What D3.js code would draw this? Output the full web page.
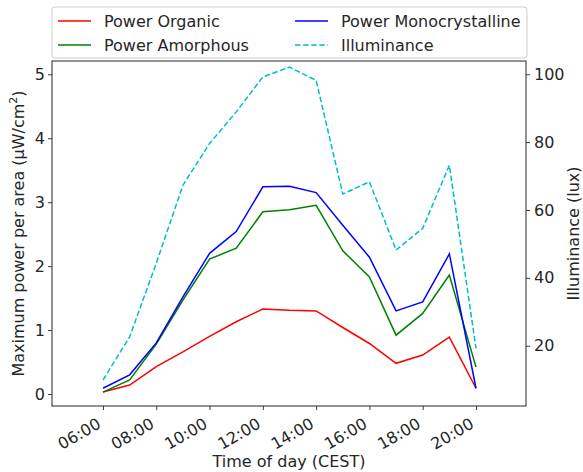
<!DOCTYPE html>
<html><head><meta charset="utf-8">
<script src="https://cdn.jsdelivr.net/npm/d3@7"></script>
<style>
body{margin:0;background:#fff;}
text{font-family:"DejaVu Sans",sans-serif;fill:#262626;}
</style></head>
<body><svg id="c" width="583" height="472"></svg>
<script>
const hours = [6,7,8,9,10,11,12,13,14,15,16,17,18,19,20];
const powerOrganic = [0.03,0.14,0.43,0.66,0.90,1.13,1.33,1.31,1.30,1.04,0.79,0.48,0.61,0.89,0.09];
const powerAmorphous = [0.03,0.22,0.78,1.47,2.11,2.28,2.85,2.88,2.95,2.24,1.83,0.92,1.26,1.86,0.42];
const powerMono = [0.09,0.30,0.80,1.52,2.20,2.54,3.24,3.25,3.15,2.64,2.14,1.30,1.44,2.19,0.09];
const illuminance = [9.9,22.6,44.3,67.3,79.6,88.9,99.2,102.1,98.2,64.7,68.3,48.2,54.6,73.2,19.2];
const xTicks = [6,8,10,12,14,16,18,20];
const leftTicks = [0,1,2,3,4,5];
const rightTicks = [20,40,60,80,100];

const svg = d3.select("#c");
const L=52,R=526,T=61,B=406;
const x = d3.scaleLinear().domain([4.086,21.877]).range([L,R]);
const yL = d3.scaleLinear().domain([-0.1875,5.208]).range([B,T]);
const yR = d3.scaleLinear().domain([2.24,103.9]).range([B,T]);

const fs = 16;
// axes
const gx = svg.append("g").attr("transform",`translate(0,${B})`)
  .call(d3.axisBottom(x).tickValues(xTicks).tickSizeOuter(0).tickSize(4)
    .tickFormat(d=>String(d).padStart(2,"0")+":00"));
gx.selectAll("text").attr("font-size",fs).attr("text-anchor","end")
  .attr("x",0).attr("y",0).attr("dy",0)
  .attr("transform","translate(-1.5,21) rotate(-30)");
const gl = svg.append("g").attr("transform",`translate(${L},0)`)
  .call(d3.axisLeft(yL).tickValues(leftTicks).tickFormat(d3.format("d")).tickSizeOuter(0).tickSize(4).tickPadding(3));
gl.selectAll("text").attr("font-size",fs);
const gr = svg.append("g").attr("transform",`translate(${R},0)`)
  .call(d3.axisRight(yR).tickValues(rightTicks).tickSizeOuter(0).tickSize(4).tickPadding(4));
gr.selectAll("text").attr("font-size",fs);
svg.selectAll(".domain").remove();
svg.selectAll(".tick line").attr("stroke","#262626").attr("stroke-width",0.9);
svg.append("rect").attr("x",L).attr("y",T).attr("width",R-L).attr("height",B-T)
  .attr("fill","none").attr("stroke","#262626").attr("stroke-width",1);

// lines
const series = [
  {name:"Power Organic", vals:powerOrganic, color:"#ff0000", y:yL, dash:null},
  {name:"Power Amorphous", vals:powerAmorphous, color:"#008000", y:yL, dash:null},
  {name:"Power Monocrystalline", vals:powerMono, color:"#0000ff", y:yL, dash:null},
  {name:"Illuminance", vals:illuminance, color:"#00bfbf", y:yR, dash:"5.5,2.6"},
];
series.forEach(s=>{
  const line = d3.line().x((d,i)=>x(hours[i])).y(d=>s.y(d));
  svg.append("path").attr("d",line(s.vals)).attr("fill","none")
    .attr("stroke",s.color).attr("stroke-width",1.5)
    .attr("stroke-dasharray",s.dash);
});

// axis labels
svg.append("text").attr("x",(L+R)/2).attr("y",467).attr("text-anchor","middle")
  .attr("font-size",fs).text("Time of day (CEST)");
const yl = svg.append("text").attr("transform",`translate(24,${(T+B)/2}) rotate(-90)`)
  .attr("text-anchor","middle").attr("font-size",fs);
yl.append("tspan").text("Maximum power per area (μW/cm");
yl.append("tspan").attr("font-size",11).attr("dy",-7).text("2");
yl.append("tspan").attr("dy",7).text(")");
svg.append("text").attr("transform",`translate(573,${(T+B)/2}) rotate(-90)`)
  .attr("text-anchor","middle").attr("dy","0.35em").attr("font-size",fs).text("Illuminance (lux)");

// legend
const lg = svg.append("g");
lg.append("rect").attr("x",L).attr("y",7).attr("width",R+1-L).attr("height",51)
  .attr("rx",3).attr("fill","#fff").attr("fill-opacity",0.8).attr("stroke","#cccccc");
const pos = [[58,21],[58,45],[295,21],[295,45]];
series.forEach((s,i)=>{
  const [px,py]=pos[i];
  lg.append("line").attr("x1",px).attr("x2",px+33).attr("y1",py).attr("y2",py)
    .attr("stroke",s.color).attr("stroke-width",1.5).attr("stroke-dasharray",s.dash);
  lg.append("text").attr("x",px+46).attr("y",py).attr("dy","0.35em")
    .attr("font-size",fs).text(s.name);
});
</script></body></html>
